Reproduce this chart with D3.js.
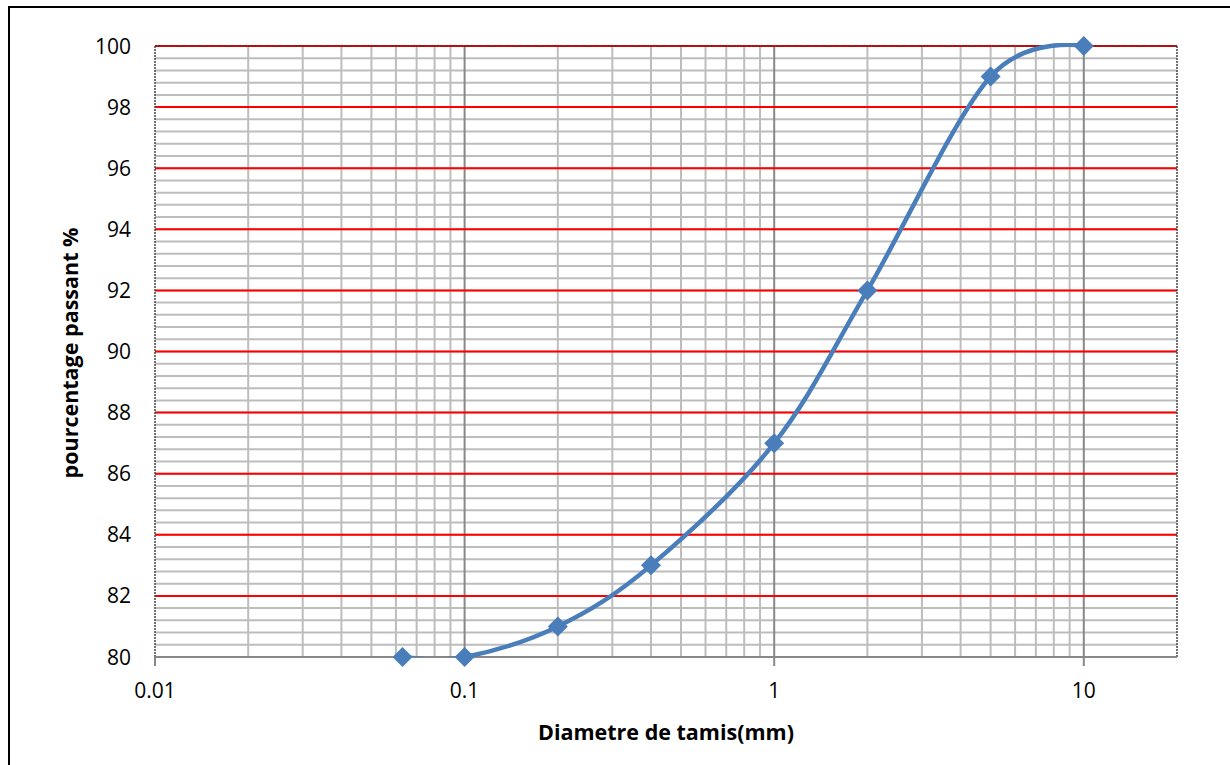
<!DOCTYPE html>
<html>
<head>
<meta charset="utf-8">
<script src="https://cdn.jsdelivr.net/npm/d3@7"></script>
<style>
  body { margin: 0; background: #fff; }
  text { font-family: "Open Sans", "Noto Sans", sans-serif; }
</style>
</head>
<body>
<svg id="chart"></svg>
<script>
// Chart size
const width = 1230, height = 765;

// Data (sieve diameter in mm, % passing)
const diameters = [0.063, 0.1, 0.2, 0.4, 1, 2, 5, 10];
const passing = [80, 80, 81, 83, 87, 92, 99, 100];

// Axis ticks
const xTicks = [0.01, 0.1, 1, 10];
const yTicks = [80, 82, 84, 86, 88, 90, 92, 94, 96, 98, 100];

const margin = { left: 155, right: 53, top: 46, bottom: 108 };

const svg = d3.select("#chart")
    .attr("width", width)
    .attr("height", height);

// outer frame (runs off the right/bottom edge like the original)
svg.append("rect")
    .attr("x", 9).attr("y", 7)
    .attr("width", width).attr("height", height)
    .attr("fill", "none").attr("stroke", "#000").attr("stroke-width", 2);

const x = d3.scaleLog()
    .domain([0.01, 20])
    .range([margin.left, width - margin.right]);

const y = d3.scaleLinear()
    .domain([80, 100])
    .range([height - margin.bottom, margin.top]);

const grid = svg.append("g");

// minor vertical lines 2..9 in every decade
let minorX = [];
for (let d = 0.01; d < 20; d *= 10) {
    for (let k = 2; k <= 9; k++) {
        const v = +(d * k).toPrecision(3);
        if (v < 20) minorX.push(v);
    }
}
grid.selectAll(".vminor").data(minorX).enter().append("line")
    .attr("x1", d => x(d)).attr("x2", d => x(d))
    .attr("y1", y(80)).attr("y2", y(100))
    .attr("stroke", "#bdbdbd").attr("stroke-width", 2);

// minor horizontal lines every 0.4
const minorY = d3.range(80, 100.01, 0.4).map(v => +v.toFixed(1));
grid.selectAll(".hminor").data(minorY).enter().append("line")
    .attr("x1", x(0.01)).attr("x2", x(20))
    .attr("y1", d => y(d)).attr("y2", d => y(d))
    .attr("stroke", "#bdbdbd").attr("stroke-width", 2);

// major vertical lines at decades
grid.selectAll(".vmajor").data(xTicks.slice(1)).enter().append("line")
    .attr("x1", d => x(d)).attr("x2", d => x(d))
    .attr("y1", y(80)).attr("y2", y(100) )
    .attr("stroke", "#888").attr("stroke-width", 2);

// major horizontal lines (red)
grid.selectAll(".hmajor").data(yTicks.slice(1)).enter().append("line")
    .attr("x1", x(0.01)).attr("x2", x(20))
    .attr("y1", d => y(d)).attr("y2", d => y(d))
    .attr("stroke", "#ff0000").attr("stroke-width", 2);

// plot border: dark dashed on left, top and right
const border = svg.append("g")
    .attr("fill", "none").attr("stroke", "#444")
    .attr("stroke-width", 1.5).attr("stroke-dasharray", "2,1");
border.append("line").attr("x1", x(0.01)).attr("x2", x(0.01)).attr("y1", y(80)).attr("y2", y(100));
border.append("line").attr("x1", x(20)).attr("x2", x(20)).attr("y1", y(80)).attr("y2", y(100));
svg.append("line")
    .attr("x1", x(0.01)).attr("x2", x(20)).attr("y1", y(100)).attr("y2", y(100))
    .attr("stroke", "#8b1a1a").attr("stroke-width", 2).attr("stroke-dasharray", "2,1");

// x axis line + decade ticks
svg.append("line")
    .attr("x1", x(0.01)).attr("x2", x(20)).attr("y1", y(80)).attr("y2", y(80))
    .attr("stroke", "#888").attr("stroke-width", 2);
svg.selectAll(".xtick").data(xTicks).enter().append("line")
    .attr("x1", d => x(d)).attr("x2", d => x(d))
    .attr("y1", y(80)).attr("y2", y(80) + 9)
    .attr("stroke", "#888").attr("stroke-width", 2);

// tick labels
svg.selectAll(".xlabel").data(xTicks).enter().append("text")
    .attr("x", d => x(d)).attr("y", y(80) + 41)
    .attr("text-anchor", "middle")
    .attr("font-size", 21)
    .text(d => d);

svg.selectAll(".ylabel").data(yTicks).enter().append("text")
    .attr("x", 131).attr("y", d => y(d) + 7.5)
    .attr("text-anchor", "end")
    .attr("font-size", 21)
    .text(d => d);

// axis titles
svg.append("text")
    .attr("x", 666).attr("y", 740)
    .attr("text-anchor", "middle")
    .attr("font-size", 21.5).attr("font-weight", "bold")
    .text("Diametre de tamis(mm)");

svg.append("text")
    .attr("transform", "translate(78," + 353 + ") rotate(-90)")
    .attr("text-anchor", "middle")
    .attr("font-size", 21.5).attr("font-weight", "bold")
    .text("pourcentage passant %");

// clip so the smoothed curve stays inside the plot like Excel
svg.append("clipPath").attr("id", "plotclip")
    .append("rect")
    .attr("x", x(0.01)).attr("y", y(100) - 3)
    .attr("width", x(20) - x(0.01)).attr("height", y(80) - y(100) + 3);

const points = diameters.map((d, i) => ({ d: d, p: passing[i] }));

const line = d3.line()
    .x(d => x(d.d))
    .y(d => y(d.p))
    .curve(d3.curveCardinal.tension(0));

svg.append("path")
    .datum(points)
    .attr("clip-path", "url(#plotclip)")
    .attr("d", line)
    .attr("fill", "none")
    .attr("stroke", "#4a7ebb")
    .attr("stroke-width", 4.5);

// diamond markers
svg.selectAll(".marker").data(points).enter().append("path")
    .attr("transform", d => "translate(" + x(d.d) + "," + y(d.p) + ")")
    .attr("d", "M0,-10L10,0L0,10L-10,0Z")
    .attr("fill", "#4a7ebb");
</script>
</body>
</html>
